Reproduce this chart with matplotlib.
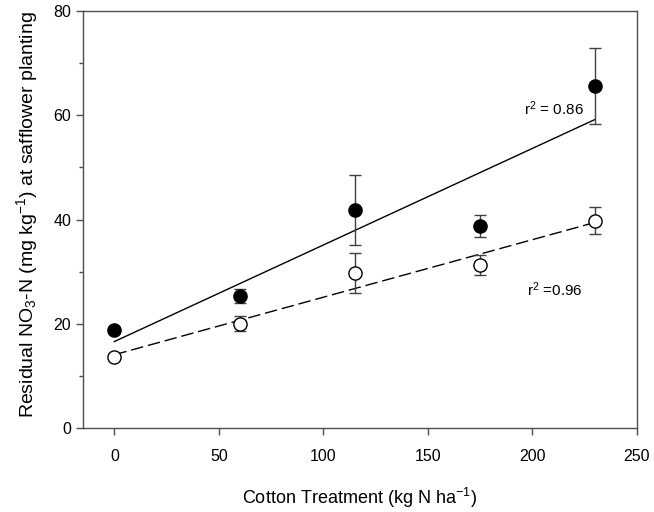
import numpy as np
import matplotlib
matplotlib.use("Agg")
import matplotlib.pyplot as plt
from matplotlib.ticker import MultipleLocator

# cotton N treatment (kg N / ha)
treatment = [0, 60, 115, 175, 230]

# filled symbols
filled_mean = [18.8, 25.3, 41.9, 38.8, 65.6]
filled_err = [0.5, 1.4, 6.7, 2.1, 7.3]

# open symbols
open_mean = [13.6, 20.0, 29.7, 31.2, 39.8]
open_err = [0.5, 1.4, 3.8, 1.9, 2.6]

r2_labels = ["r$^2$ = 0.86", "r$^2$ =0.96"]

plt.rcParams["font.family"] = ["Liberation Sans", "DejaVu Sans"]
plt.rcParams["mathtext.default"] = "regular"
plt.rcParams["font.size"] = 11

fig = plt.figure(figsize=(6.54, 5.12), dpi=100)
ax = fig.add_axes([83 / 654, 1 - 428 / 512, (637 - 83) / 654, (428 - 11) / 512])

x = np.array(treatment)

# regression lines
fit_f = np.polyfit(x, filled_mean, 1)
fit_o = np.polyfit(x, open_mean, 1)
ax.plot(x[[0, -1]], np.polyval(fit_f, x[[0, -1]]), color="black", lw=1)
ax.plot(x[[0, -1]], np.polyval(fit_o, x[[0, -1]]), color="black", lw=1,
        dashes=(9, 3.5))

# points with error bars
ax.errorbar(x, filled_mean, yerr=filled_err, fmt="o", color="black",
            ms=9.5, ecolor="0.25", elinewidth=1, capsize=4.5, capthick=1,
            zorder=3)
ax.errorbar(x, open_mean, yerr=open_err, fmt="o", mfc="white", mec="black",
            mew=1, ms=9.5, ecolor="0.25", elinewidth=1, capsize=4.5,
            capthick=1, zorder=3)

ax.text(196, 61.2, r2_labels[0], ha="left", va="center", fontsize=11)
ax.text(197.5, 26.5, r2_labels[1], ha="left", va="center", fontsize=11)

ax.set_xlim(-15, 250)
ax.set_ylim(0, 80)
ax.xaxis.set_major_locator(MultipleLocator(50))
ax.yaxis.set_major_locator(MultipleLocator(20))
ax.yaxis.set_minor_locator(MultipleLocator(10))
ax.tick_params(which="both", direction="out", color="0.3", width=1,
               labelsize=11.5)
ax.tick_params(which="major", length=5)
ax.tick_params(which="minor", length=3)
ax.tick_params(axis="x", pad=10)
for s in ax.spines.values():
    s.set_color("0.3")
    s.set_linewidth(1)

ax.set_xlabel("Cotton Treatment (kg N ha$^{-1}$)", fontsize=13, labelpad=16)
ax.set_ylabel("Residual NO$_3$-N (mg kg$^{-1}$) at safflower planting",
              fontsize=14, labelpad=7)
ax.yaxis.set_label_coords(-0.078, 0.512)

fig.savefig("out.png", dpi=100)
